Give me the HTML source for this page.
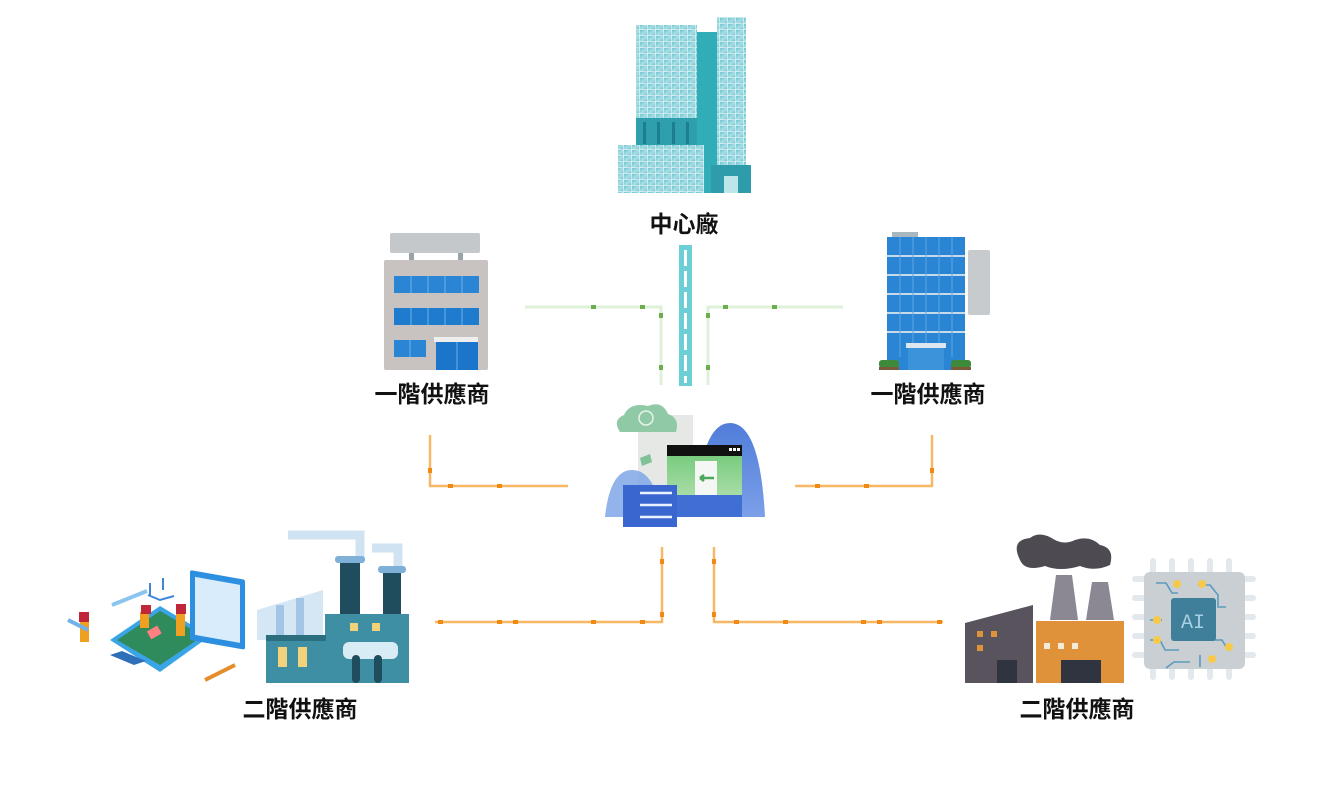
<!DOCTYPE html>
<html><head><meta charset="utf-8"><style>
html,body{margin:0;padding:0;background:#fff;width:1321px;height:787px;overflow:hidden}
svg{display:block}
text{font-family:"Liberation Sans","Noto Sans CJK TC",sans-serif;font-weight:bold;fill:#111}
</style></head><body>
<svg width="1321" height="787" viewBox="0 0 1321 787" xmlns="http://www.w3.org/2000/svg">
<defs>
<linearGradient id="glass" x1="0" y1="0" x2="1" y2="1"><stop offset="0" stop-color="#6cc3cf"/><stop offset="0.5" stop-color="#a9dfe6"/><stop offset="1" stop-color="#5fb9c6"/></linearGradient>
<pattern id="grid" width="8" height="6" patternUnits="userSpaceOnUse"><rect width="8" height="6" fill="url(#glass)"/><path d="M0 5.5H8M7.5 0V6" stroke="#d9f2f5" stroke-width="0.8"/></pattern>
<linearGradient id="hill" x1="0" y1="0" x2="0" y2="1"><stop offset="0" stop-color="#3d6fd6"/><stop offset="1" stop-color="#6d95e6"/></linearGradient>
<linearGradient id="win" x1="0" y1="0" x2="0" y2="1"><stop offset="0" stop-color="#79cc80"/><stop offset="1" stop-color="#a8dca6"/></linearGradient>
</defs>

<!-- central building -->
<rect x="636" y="25" width="61" height="115" fill="url(#grid)"/>
<rect x="636" y="118" width="61" height="27" fill="#2f9fae"/>
<rect x="643" y="122" width="3" height="22" fill="#1d7f8d"/><rect x="657" y="122" width="3" height="22" fill="#1d7f8d"/><rect x="672" y="122" width="3" height="22" fill="#1d7f8d"/><rect x="686" y="122" width="3" height="22" fill="#1d7f8d"/>
<rect x="697" y="32" width="20" height="161" fill="#31adb8"/>
<rect x="717" y="17" width="29" height="148" fill="url(#grid)"/>
<rect x="618" y="145" width="86" height="48" fill="url(#grid)"/>
<rect x="711" y="165" width="40" height="28" fill="#2e9cab"/>
<rect x="724" y="176" width="14" height="17" fill="#bde6ea"/>
<text x="684" y="232" font-size="23" text-anchor="middle">中心廠</text>

<!-- teal central connector -->
<rect x="679" y="245" width="13" height="141" fill="#6ccfd5"/>
<line x1="685.5" y1="250" x2="685.5" y2="383" stroke="#fff" stroke-width="3" stroke-dasharray="16,5"/>

<!-- green connectors -->
<g stroke="#dff0d8" stroke-width="3" fill="none">
<path d="M525 307H661V385"/><path d="M843 307H708V385"/>
</g>
<g fill="#6aae4d">
<rect x="591" y="305" width="5" height="4"/><rect x="640" y="305" width="5" height="4"/><rect x="659" y="313" width="4" height="5"/><rect x="659" y="365" width="4" height="5"/>
<rect x="723" y="305" width="5" height="4"/><rect x="772" y="305" width="5" height="4"/><rect x="706" y="313" width="4" height="5"/><rect x="706" y="365" width="4" height="5"/>
</g>

<!-- orange connectors -->
<g stroke="#fbd9ad" stroke-width="3" fill="none">
<path d="M430 435V486H568"/><path d="M932 435V486H795"/>
<path d="M662 547V622H435"/><path d="M714 547V622H943"/>
</g>
<g stroke="#f7a33a" stroke-width="1.2" fill="none">
<path d="M430 435V486H568"/><path d="M932 435V486H795"/>
<path d="M662 547V622H435"/><path d="M714 547V622H943"/>
</g>
<g fill="#f08a12">
<rect x="428" y="468" width="4" height="5"/><rect x="448" y="484" width="5" height="4"/><rect x="497" y="484" width="5" height="4"/>
<rect x="930" y="468" width="4" height="5"/><rect x="815" y="484" width="5" height="4"/><rect x="864" y="484" width="5" height="4"/>
<rect x="660" y="559" width="4" height="5"/><rect x="660" y="612" width="4" height="5"/><rect x="438" y="620" width="5" height="4"/><rect x="497" y="620" width="5" height="4"/><rect x="513" y="620" width="5" height="4"/><rect x="591" y="620" width="5" height="4"/><rect x="640" y="620" width="5" height="4"/>
<rect x="712" y="559" width="4" height="5"/><rect x="712" y="612" width="4" height="5"/><rect x="734" y="620" width="5" height="4"/><rect x="783" y="620" width="5" height="4"/><rect x="861" y="620" width="5" height="4"/><rect x="877" y="620" width="5" height="4"/><rect x="937" y="620" width="5" height="4"/>
</g>

<!-- tier1 left building -->
<rect x="390" y="233" width="90" height="20" rx="2" fill="#c5c8cb"/>
<rect x="409" y="253" width="5" height="8" fill="#9aa4a8"/><rect x="458" y="253" width="5" height="8" fill="#9aa4a8"/>
<rect x="384" y="260" width="104" height="110" rx="2" fill="#c8c3c0"/>
<rect x="394" y="276" width="85" height="17" fill="#2a86d4"/>
<rect x="394" y="308" width="85" height="17" fill="#1f7bcd"/>
<rect x="394" y="340" width="32" height="17" fill="#2a86d4"/>
<rect x="434" y="337" width="44" height="5" fill="#eeeeee"/>
<rect x="436" y="342" width="42" height="28" fill="#1b76cb"/>
<g stroke="#6db0e6" stroke-width="1"><path d="M411 276v17M428 276v17M445 276v17M462 276v17M411 308v17M428 308v17M445 308v17M462 308v17M410 340v17M457 342v28"/></g>
<text x="432" y="402" font-size="23" text-anchor="middle">一階供應商</text>

<!-- tier1 right building -->
<rect x="892" y="232" width="26" height="6" fill="#a9b8c0"/>
<rect x="887" y="237" width="78" height="133" fill="#2a86d4"/>
<g stroke="#c6dbea" stroke-width="2"><path d="M887 256H965M887 275H965M887 294H965M887 313H965M887 332H965"/></g>
<g stroke="#5ea6e2" stroke-width="1"><path d="M900 237v120M913 237v120M926 237v120M939 237v120M952 237v120"/></g>
<rect x="968" y="250" width="22" height="65" rx="2" fill="#c8cbcd"/>
<rect x="906" y="343" width="40" height="5" fill="#dde6ee"/>
<rect x="908" y="348" width="36" height="22" fill="#3b93da"/>
<rect x="879" y="360" width="20" height="8" rx="3" fill="#3f8a3a"/><rect x="951" y="360" width="20" height="8" rx="3" fill="#3f8a3a"/>
<rect x="879" y="367" width="20" height="3" fill="#7a5a3a"/><rect x="951" y="367" width="20" height="3" fill="#7a5a3a"/>
<text x="928" y="402" font-size="23" text-anchor="middle">一階供應商</text>

<!-- center icon -->
<rect x="638" y="415" width="55" height="80" fill="#e6e8e6"/>
<path d="M695 517 Q700 423 730 423 Q760 423 765 517Z" fill="url(#hill)" opacity="0.9"/>
<path d="M605 517 Q610 470 632 470 Q655 470 662 517Z" fill="#7fa7e6" opacity="0.85"/>
<path d="M620 432 Q612 420 624 415 Q630 402 648 406 Q662 400 668 414 Q680 418 676 432Z" fill="#8fc9a6"/>
<circle cx="646" cy="418" r="7" fill="none" stroke="#e8f4ec" stroke-width="1.5"/>
<rect x="667" y="445" width="75" height="11" fill="#111"/>
<rect x="729" y="448" width="3" height="3" fill="#fff"/><rect x="733" y="448" width="3" height="3" fill="#fff"/><rect x="737" y="448" width="3" height="3" fill="#fff"/>
<rect x="667" y="456" width="75" height="39" fill="url(#win)"/>
<rect x="695" y="461" width="22" height="34" fill="#f4f7f4"/>
<path d="M700 478H714M700 478l4-3M700 478l4 3" stroke="#4ba85b" stroke-width="2.5" fill="none"/>
<rect x="667" y="495" width="75" height="22" fill="#3f6fd3"/>
<rect x="623" y="485" width="54" height="42" fill="#3a66cf"/>
<g stroke="#e8f1ff" stroke-width="2.5"><path d="M640 493H672M640 505H672M640 517H672"/></g>
<path d="M640 458 l10 -4 2 8 -10 4z" fill="#7ec296"/>

<!-- tier2 left: electronics -->
<path d="M110 640 L160 606 L210 636 L160 672Z" fill="#3aa5e6"/>
<path d="M117 640 L160 611 L203 636 L160 665Z" fill="#2f8a5c"/>
<rect x="148" y="628" width="12" height="9" fill="#ff8080" transform="rotate(-30 154 632)"/>
<rect x="190" y="570" width="55" height="70" rx="2" fill="#2d8fe0" transform="skewY(10)" transform-origin="190 570"/>
<rect x="195" y="576" width="45" height="58" fill="#d8ecfb" transform="skewY(10)" transform-origin="190 570"/>
<path d="M150 583v12M163 578v12M148 595l12 5 14-4" stroke="#3f86d8" stroke-width="2" fill="none"/>
<path d="M112 605l35-14" stroke="#8cc4f0" stroke-width="4"/>
<path d="M110 655l24 10 12-4-24-10z" fill="#2f6fb8"/>
<path d="M205 680l30-15" stroke="#e58d2a" stroke-width="4"/>
<g fill="#f0a020"><rect x="80" y="620" width="9" height="22"/><rect x="140" y="612" width="9" height="16"/><rect x="176" y="612" width="9" height="24"/></g>
<g fill="#c0283a"><rect x="79" y="612" width="10" height="10"/><rect x="141" y="605" width="10" height="9"/><rect x="176" y="604" width="10" height="10"/></g>
<path d="M68 620l20 10" stroke="#6fb1e8" stroke-width="4"/>

<!-- tier2 left: factory -->
<path d="M288 535H360V560" stroke="#cfe3f2" stroke-width="9" fill="none"/>
<path d="M372 548H398V570" stroke="#cfe3f2" stroke-width="9" fill="none"/>
<rect x="340" y="560" width="20" height="60" fill="#1f4d5e"/><rect x="335" y="556" width="30" height="7" rx="3" fill="#7eb0d8"/>
<rect x="383" y="570" width="18" height="50" fill="#1f4d5e"/><rect x="378" y="566" width="28" height="7" rx="3" fill="#7eb0d8"/>
<path d="M257 618 L257 610 L323 590 L323 640 H257Z" fill="#d5e6f4"/>
<path d="M280 605v35M300 598v42" stroke="#a4c6e6" stroke-width="8"/>
<rect x="325" y="614" width="84" height="69" fill="#3e8fa4"/>
<rect x="266" y="638" width="60" height="45" fill="#3e8fa4"/>
<rect x="266" y="635" width="60" height="6" fill="#2b6e80"/>
<rect x="278" y="647" width="9" height="20" fill="#f2d27a"/><rect x="298" y="647" width="9" height="20" fill="#f2d27a"/>
<rect x="350" y="623" width="8" height="8" fill="#f2d27a"/><rect x="372" y="623" width="8" height="8" fill="#f2d27a"/>
<rect x="343" y="642" width="55" height="17" rx="6" fill="#d7ecf5"/>
<rect x="352" y="655" width="8" height="28" rx="4" fill="#1f4d5e"/><rect x="374" y="655" width="8" height="28" rx="4" fill="#1f4d5e"/>
<text x="300" y="717" font-size="23" text-anchor="middle">二階供應商</text>

<!-- tier2 right: factory -->
<path d="M1020 560 Q1010 540 1030 538 Q1040 530 1055 540 Q1065 545 1075 540 Q1090 535 1100 545 Q1115 548 1110 565 Q1095 572 1080 566 Q1060 572 1045 566 Q1025 572 1020 560Z" fill="#4d4a51"/>
<path d="M1050 620 L1056 575 H1072 L1078 620Z" fill="#8c8893"/>
<path d="M1086 620 L1092 582 H1108 L1114 620Z" fill="#8c8893"/>
<path d="M965 623 L1033 605 V683 H965Z" fill="#58535d"/>
<rect x="1036" y="621" width="88" height="62" fill="#e0923a"/>
<rect x="977" y="631" width="6" height="6" fill="#e0923a"/><rect x="991" y="631" width="6" height="6" fill="#e0923a"/><rect x="977" y="645" width="6" height="6" fill="#e0923a"/>
<rect x="997" y="660" width="20" height="23" fill="#2f3440"/>
<rect x="1044" y="643" width="6" height="6" fill="#f4ead8"/><rect x="1058" y="643" width="6" height="6" fill="#f4ead8"/><rect x="1072" y="643" width="6" height="6" fill="#f4ead8"/>
<rect x="1061" y="660" width="40" height="23" fill="#2f3440"/>

<!-- AI chip -->
<g fill="#e3e8ec"><rect x="1150" y="558" width="6" height="122" rx="3"/><rect x="1169" y="558" width="6" height="122" rx="3"/><rect x="1188" y="558" width="6" height="122" rx="3"/><rect x="1207" y="558" width="6" height="122" rx="3"/><rect x="1226" y="558" width="6" height="122" rx="3"/>
<rect x="1132" y="576" width="124" height="6" rx="3"/><rect x="1132" y="595" width="124" height="6" rx="3"/><rect x="1132" y="614" width="124" height="6" rx="3"/><rect x="1132" y="633" width="124" height="6" rx="3"/><rect x="1132" y="652" width="124" height="6" rx="3"/></g>
<rect x="1144" y="572" width="101" height="97" rx="6" fill="#c9cfd3"/>
<g stroke="#5a9bbd" stroke-width="1.6" fill="none"><path d="M1156 583h10l6 10h6M1198 585h12l8 10v12h8M1150 620h12M1150 640h10l5 10h14M1212 640h10l6 10M1200 655v12M1190 662h-16l-8 6"/></g>
<rect x="1171" y="598" width="45" height="43" rx="3" fill="#3f7f9a"/>
<text x="1193" y="628" font-size="20" text-anchor="middle" style="fill:#a9d1e3;font-family:'Liberation Mono',monospace;font-weight:normal">AI</text>
<g fill="#f7c948"><circle cx="1177" cy="584" r="4"/><circle cx="1202" cy="584" r="4"/><circle cx="1157" cy="620" r="4"/><circle cx="1157" cy="640" r="4"/><circle cx="1229" cy="647" r="4"/><circle cx="1212" cy="659" r="4"/></g>
<text x="1077" y="717" font-size="23" text-anchor="middle">二階供應商</text>
</svg>
</body></html>
